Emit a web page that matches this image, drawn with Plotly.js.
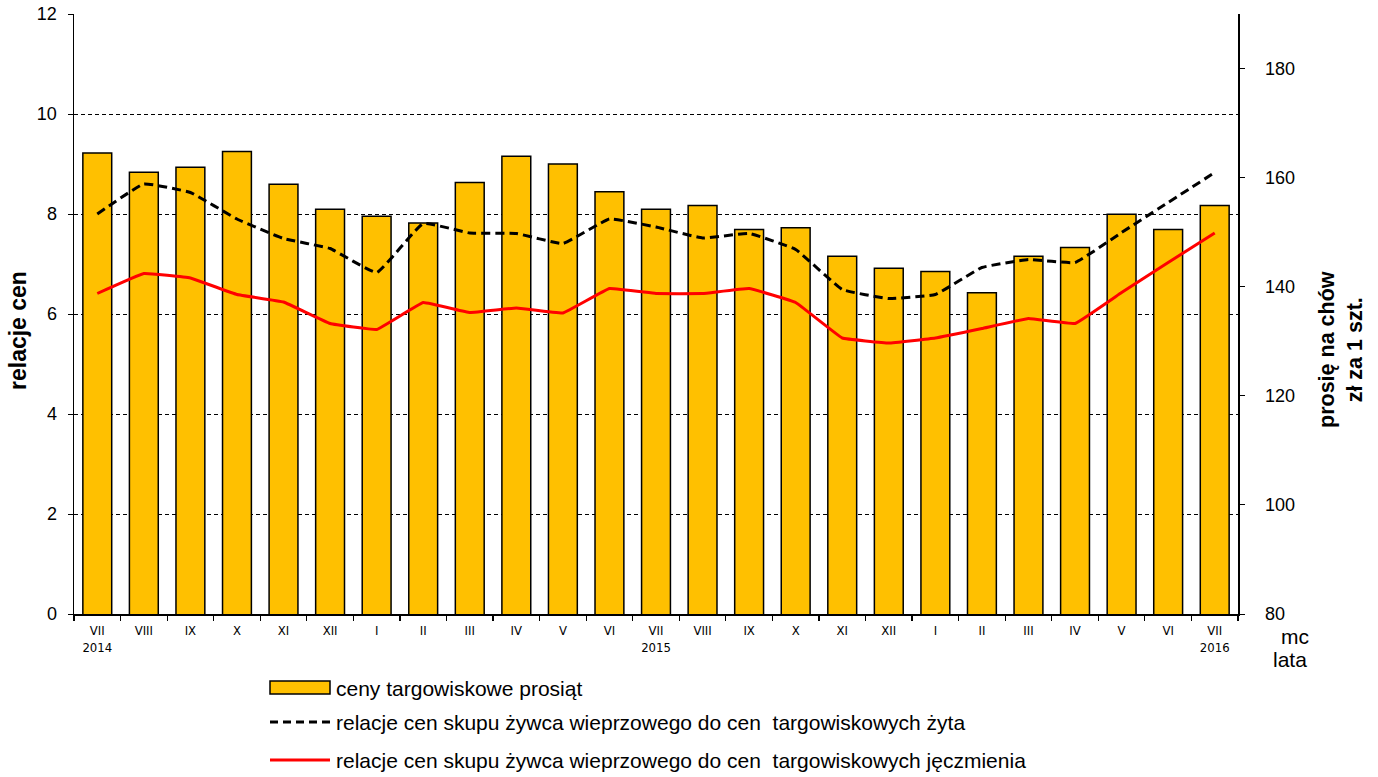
<!DOCTYPE html>
<html>
<head>
<meta charset="utf-8">
<script src="https://cdn.plot.ly/plotly-3.0.1.min.js"></script>
<style>html,body{margin:0;padding:0;background:#fff;}#chart{width:1378px;height:777px;}</style>
</head>
<body>
<div id="chart"></div>
<script>
// Categories (months, VII 2014 – VII 2016)
const monthLabels = ["VII<br>2014","VIII","IX","X","XI","XII","I","II","III","IV","V","VI",
                     "VII<br>2015","VIII","IX","X","XI","XII","I","II","III","IV","V","VI","VII<br>2016"];
// ceny targowiskowe prosiąt (zł za 1 szt.) – right axis
const pigletPrices = [164.5,161.0,161.9,164.8,158.8,154.2,152.9,151.7,159.1,163.9,162.5,157.4,
                      154.2,154.9,150.5,150.8,145.6,143.4,142.8,138.9,145.6,147.2,153.3,150.5,154.9];
// relacje cen skupu żywca wieprzowego do cen targowiskowych żyta – left axis
const ratioRye = [8.00,8.60,8.43,7.90,7.51,7.31,6.83,7.81,7.62,7.61,7.41,7.90,
                  7.74,7.52,7.61,7.29,6.49,6.31,6.39,6.93,7.09,7.03,7.63,8.23,8.83];
// relacje cen skupu żywca wieprzowego do cen targowiskowych jęczmienia – left axis
const ratioBarley = [6.41,6.81,6.72,6.39,6.24,5.81,5.69,6.23,6.03,6.12,6.02,6.51,
                     6.41,6.41,6.51,6.23,5.52,5.42,5.52,5.71,5.91,5.81,6.43,7.03,7.62];

const seriesNames = ["ceny targowiskowe prosiąt",
  "relacje cen skupu żywca wieprzowego do cen  targowiskowych żyta",
  "relacje cen skupu żywca wieprzowego do cen  targowiskowych jęczmienia"];
const leftTitle = "relacje cen";
const rightTitle = ["prosię na chów", "zł za 1 szt."];
const xUnitLabels = ["mc", "lata"];

const xIdx = monthLabels.map((_, i) => i);
const FONT = "Liberation Sans, Arial, sans-serif";
const NARROW = "Liberation Sans Narrow, Arial Narrow, DejaVu Sans Condensed, sans-serif";

const traces = [
  {type:"bar", x:xIdx, y:pigletPrices, yaxis:"y", name:seriesNames[0],
   marker:{color:"#FFC000", line:{color:"#000", width:1.5}}, showlegend:false, hoverinfo:"y"},
  {type:"scatter", mode:"lines", x:xIdx, y:ratioRye, yaxis:"y2", name:seriesNames[1],
   line:{color:"#000", width:3, dash:"9px,5px", shape:"spline", smoothing:0.3}, showlegend:false},
  {type:"scatter", mode:"lines", x:xIdx, y:ratioBarley, yaxis:"y2", name:seriesNames[2],
   line:{color:"#FF0000", width:3, shape:"spline", smoothing:0.2}, showlegend:false}
];

// paper coords helpers (plot area: x 74..1238, y 14..614)
const px = v => (v - 74) / 1164;
const py = v => (614 - v) / 600;

const legendY = [688, 722, 760];
const shapes = [
  {type:"rect", xref:"paper", yref:"paper", x0:px(270), x1:px(330), y0:py(694), y1:py(681),
   fillcolor:"#FFC000", line:{color:"#000", width:1.5}},
  {type:"line", xref:"paper", yref:"paper", x0:px(270), x1:px(330), y0:py(legendY[1]), y1:py(legendY[1]),
   line:{color:"#000", width:3, dash:"8px,5px"}},
  {type:"line", xref:"paper", yref:"paper", x0:px(270), x1:px(330), y0:py(legendY[2]), y1:py(legendY[2]),
   line:{color:"#FF0000", width:3}}
];
const annotations = seriesNames.map((t, i) => ({
  xref:"paper", yref:"paper", x:px(334), y:py(legendY[i]), xanchor:"left", yanchor:"middle",
  text:t, showarrow:false, font:{family:FONT, size:21, color:"#000"}
}));
annotations.push(
  {xref:"paper", yref:"paper", x:px(1311), y:py(636), xanchor:"right", yanchor:"middle",
   text:xUnitLabels[0], showarrow:false, font:{family:FONT, size:21, color:"#000"}},
  {xref:"paper", yref:"paper", x:px(1309), y:py(659), xanchor:"right", yanchor:"middle",
   text:xUnitLabels[1], showarrow:false, font:{family:FONT, size:21, color:"#000"}},
  // axis titles
  {xref:"paper", yref:"paper", x:px(18), y:py(331), xanchor:"center", yanchor:"middle",
   textangle:-90, text:"<b>" + leftTitle + "</b>", showarrow:false,
   font:{family:FONT, size:23, color:"#000"}},
  {xref:"paper", yref:"paper", x:px(1341), y:py(350), xanchor:"center", yanchor:"middle",
   textangle:-90, text:"<b>" + rightTitle[0] + "</b><br><b>" + rightTitle[1] + "</b>", showarrow:false,
   font:{family:FONT, size:21.5, color:"#000"}}
);

const layout = {
  width:1378, height:777,
  margin:{l:74, r:140, t:14, b:163, autoexpand:false},
  paper_bgcolor:"#fff", plot_bgcolor:"#fff",
  font:{family:FONT, size:18, color:"#000"},
  bargap:0.38,
  showlegend:false,
  xaxis:{range:[-0.5,24.5], tickmode:"array", tickvals:xIdx, ticktext:monthLabels,
         ticks:"", showgrid:false, zeroline:false, showline:true, linecolor:"#000", linewidth:1.5,
         tickfont:{family:NARROW, size:13, color:"#000"}, ticklabelstandoff:4,
         minor:{tickmode:"linear", tick0:-0.5, dtick:1, ticks:"outside", ticklen:5, tickcolor:"#000", tickwidth:1.2, showgrid:false},
         fixedrange:true},
  yaxis:{range:[80,190], tickmode:"linear", tick0:80, dtick:20, side:"right",
         showgrid:false, zeroline:false, showline:true, linecolor:"#000", linewidth:1.5,
         ticks:"outside", ticklen:5, tickcolor:"#000", ticklabelstandoff:17,
         tickfont:{size:18}},
  yaxis2:{range:[0,12], tickmode:"linear", tick0:0, dtick:2, overlaying:"y", side:"left",
          showgrid:true, gridcolor:"#000", gridwidth:1, griddash:"4px,3px",
          zeroline:false, showline:true, linecolor:"#000", linewidth:1.5,
          ticks:"outside", ticklen:5, tickcolor:"#000", ticklabelstandoff:7,
          tickfont:{size:18}},
  shapes:shapes,
  annotations:annotations
};

Plotly.newPlot("chart", traces, layout, {displayModeBar:false, staticPlot:true});
</script>
</body>
</html>
